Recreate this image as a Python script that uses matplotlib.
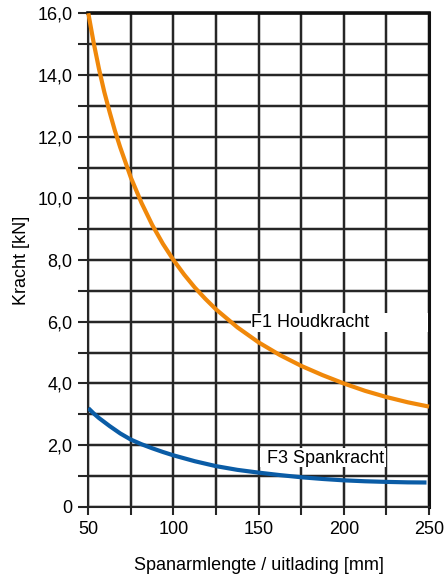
import matplotlib
matplotlib.use("Agg")
import matplotlib.pyplot as plt
from matplotlib.ticker import MultipleLocator, FuncFormatter
from matplotlib.patches import Rectangle

plt.rcParams['font.family'] = ['Liberation Sans', 'DejaVu Sans']

# Data
x_f1 = [50, 53.125, 56.25, 59.375, 62.5, 65.625, 68.75, 75, 81.25, 87.5, 93.75, 100,
        106.25, 112.5, 118.75, 125, 137.5, 150, 162.5, 175, 187.5, 200, 212.5, 225, 237.5, 250]
f1_houd = [16.0, 15.05, 14.2, 13.45, 12.8, 12.19, 11.65, 10.67, 9.85, 9.14, 8.53, 8.0,
           7.53, 7.11, 6.74, 6.4, 5.82, 5.33, 4.92, 4.57, 4.27, 4.0, 3.76, 3.56, 3.39, 3.25]

x_f3 = [50, 53.125, 56.25, 62.5, 68.75, 75, 81.25, 87.5, 93.75, 100, 112.5, 125,
        137.5, 150, 162.5, 175, 187.5, 200, 212.5, 225, 237.5, 248.5]
f3_span = [3.2, 3.03, 2.88, 2.62, 2.38, 2.18, 2.03, 1.9, 1.78, 1.67, 1.48, 1.32,
           1.2, 1.11, 1.03, 0.96, 0.905, 0.86, 0.83, 0.81, 0.795, 0.79]

label_f1 = "F1 Houdkracht"
label_f3 = "F3 Spankracht"
xlabel = "Spanarmlengte / uitlading [mm]"
ylabel = "Kracht [kN]"

fig = plt.figure(figsize=(4.46, 5.76), dpi=100)
ax = fig.add_axes([0.198, 0.120, 0.764, 0.857])

ax.set_xlim(50, 250)
ax.set_ylim(0, 16)

ax.xaxis.set_major_locator(MultipleLocator(50))
ax.xaxis.set_minor_locator(MultipleLocator(25))
ax.yaxis.set_major_locator(MultipleLocator(2))
ax.yaxis.set_minor_locator(MultipleLocator(1))

ax.yaxis.set_major_formatter(FuncFormatter(lambda v, p: "0" if v == 0 else f"{v:.1f}".replace(".", ",")))

grid_col = '#262626'
for which in ('major', 'minor'):
    ax.grid(True, which=which, color=grid_col, lw=1.5, zorder=1)
ax.set_axisbelow(True)

# soft halo around grid lines
for v in ax.xaxis.get_minorticklocs().tolist() + ax.xaxis.get_majorticklocs().tolist():
    ax.axvline(v, color='#a0a0a0', lw=2.8, alpha=0.5, zorder=0.5)
for v in ax.yaxis.get_minorticklocs().tolist() + ax.yaxis.get_majorticklocs().tolist():
    ax.axhline(v, color='#a0a0a0', lw=2.8, alpha=0.5, zorder=0.5)

ax.tick_params(axis='y', which='both', direction='out', length=7.5, width=1.5,
               color=grid_col, labelsize=13, pad=4)
ax.tick_params(axis='x', which='both', direction='out', length=5.5, width=1.5,
               color=grid_col, labelsize=13, pad=5)

for side in ('left', 'bottom'):
    ax.spines[side].set_color(grid_col)
    ax.spines[side].set_linewidth(1.5)
ax.spines['right'].set_color('#111111')
ax.spines['right'].set_linewidth(2.2)
ax.spines['top'].set_color('#111111')
ax.spines['top'].set_linewidth(2.6)

ax.plot(x_f1, f1_houd, color='#F0880A', lw=3.0, zorder=3, solid_capstyle='butt',
        solid_joinstyle='round', clip_on=False)
ax.plot(x_f3, f3_span, color='#0A5CA6', lw=3.0, zorder=3, solid_capstyle='butt',
        solid_joinstyle='round')

# label boxes
ax.add_patch(Rectangle((145.2, 5.68), 104.3, 0.62, facecolor='white', edgecolor='none',
                       zorder=4, clip_on=False))
ax.text(145.6, 5.98, label_f1, fontsize=13, ha='left', va='center', zorder=5)
ax.add_patch(Rectangle((150.5, 1.3), 74.5, 0.62, facecolor='white', edgecolor='none', zorder=4))
ax.text(154.8, 1.58, label_f3, fontsize=13, ha='left', va='center', zorder=5)

ax.set_xlabel(xlabel, fontsize=13, labelpad=13)
ax.set_ylabel(ylabel, fontsize=13, labelpad=5)

fig.savefig("out.png", dpi=100)
